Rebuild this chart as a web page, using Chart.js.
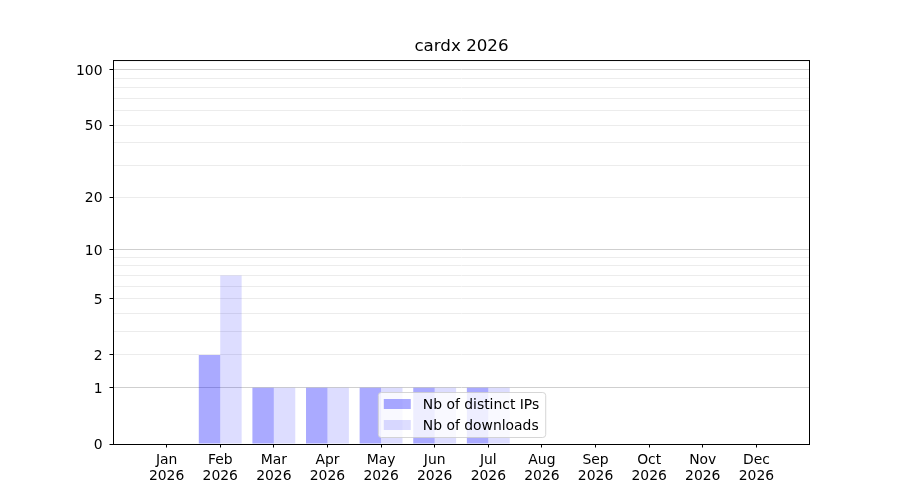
<!DOCTYPE html>
<html>
<head>
<meta charset="utf-8">
<script src="https://cdn.jsdelivr.net/npm/chart.js@4.4.1/dist/chart.umd.min.js"></script>
<style>
  html, body { margin: 0; padding: 0; background: #fff; }
  #wrap { width: 900px; height: 500px; }
</style>
</head>
<body>
<div id="wrap"><canvas id="chart" width="900" height="500"></canvas></div>
<script>
// Chart data
const chartTitle = 'cardx 2026';
const months = ['Jan', 'Feb', 'Mar', 'Apr', 'May', 'Jun', 'Jul', 'Aug', 'Sep', 'Oct', 'Nov', 'Dec'];
const yearLabel = '2026';
const distinctIps = [0, 2, 1, 1, 1, 1, 1, 0, 0, 0, 0, 0];
const downloads = [0, 7, 1, 1, 1, 1, 1, 0, 0, 0, 0, 0];
const yLabelTicks = [0, 1, 2, 5, 10, 20, 50, 100];
const yGridTicks = [0, 1, 2, 3, 4, 5, 6, 7, 8, 9, 10, 20, 30, 40, 50, 60, 70, 80, 90, 100];
const yMajorGrid = [1, 10, 100];
const yMax = 113;

// y axis scaled as log10(1 + v), like the original plot
class Log1pScale extends Chart.Scale {
    determineDataLimits() {
        this.min = this.options.min;
        this.max = this.options.max;
    }
    buildTicks() {
        return yGridTicks.map(v => ({ value: v }));
    }
    configure() {
        super.configure();
        this._startValue = Math.log10(1 + this.min);
        this._valueRange = Math.log10(1 + this.max) - this._startValue;
    }
    getPixelForValue(value) {
        return this.getPixelForDecimal((Math.log10(1 + value) - this._startValue) / this._valueRange);
    }
    getValueForPixel(pixel) {
        const dec = this.getDecimalForPixel(pixel);
        return Math.pow(10, this._startValue + dec * this._valueRange) - 1;
    }
    getLabelForValue(value) {
        return String(value);
    }
}
Log1pScale.id = 'log1p';
Log1pScale.defaults = {};
Chart.register(Log1pScale);

// Full frame around the plot, and title centred over the plot area
const frame = {
    id: 'frame',
    afterLayout(chart) {
        if (chart.titleBlock) {
            chart.titleBlock.left = chart.chartArea.left;
            chart.titleBlock.right = chart.chartArea.right;
        }
    },
    afterDatasetsDraw(chart) {
        const { ctx, chartArea: a } = chart;
        ctx.save();
        ctx.strokeStyle = '#000';
        ctx.lineWidth = 1;
        ctx.strokeRect(a.left + 0.5, a.top + 0.5, a.right - a.left - 1, a.bottom - a.top);
        ctx.restore();
    }
};

// Legend drawn inside the plot, lower center
const innerLegend = {
    id: 'innerLegend',
    afterDraw(chart) {
        const { ctx, chartArea: a } = chart;
        const sets = chart.data.datasets;
        ctx.save();
        ctx.font = '13.9px "DejaVu Sans"';
        const textW = Math.max(...sets.map(d => ctx.measureText(d.label).width));
        const w = 6 + 27 + 12 + textW + 6;
        const h = 45;
        const x = (a.left + a.right) / 2 - w / 2;
        const y = a.bottom - 7 - h;
        ctx.beginPath();
        ctx.roundRect(x + 0.5, y + 0.5, w, h, 3);
        ctx.fillStyle = 'rgba(255,255,255,0.8)';
        ctx.fill();
        ctx.strokeStyle = 'rgba(204,204,204,0.8)';
        ctx.stroke();
        sets.forEach((d, i) => {
            const cy = y + 12 + i * 21;
            ctx.fillStyle = d.backgroundColor;
            ctx.fillRect(x + 6, cy - 5, 27, 10);
            ctx.fillStyle = '#000';
            ctx.textBaseline = 'middle';
            ctx.fillText(d.label, x + 45, cy + 1);
        });
        ctx.restore();
    }
};

Chart.defaults.font.family = '"DejaVu Sans"';
Chart.defaults.font.size = 13.9;
Chart.defaults.color = '#000';

new Chart(document.getElementById('chart'), {
    type: 'bar',
    data: {
        datasets: [{
            label: 'Nb of distinct IPs',
            data: distinctIps.map((v, i) => ({ x: i, y: v })),
            backgroundColor: 'rgba(0,0,255,0.333)',
            categoryPercentage: 0.8,
            barPercentage: 1.0
        }, {
            label: 'Nb of downloads',
            data: downloads.map((v, i) => ({ x: i, y: v })),
            backgroundColor: 'rgba(0,0,255,0.133)',
            categoryPercentage: 0.8,
            barPercentage: 1.0
        }]
    },
    options: {
        responsive: false,
        animation: false,
        layout: { padding: { top: 0, right: 90, bottom: 0, left: 0 } },
        plugins: {
            legend: { display: false },
            tooltip: { enabled: false },
            title: {
                display: true,
                text: chartTitle,
                font: { size: 16.7, weight: 'normal' },
                padding: { top: 37, bottom: 3 }
            }
        },
        scales: {
            x: {
                type: 'linear',
                min: -1,
                max: 12,
                offset: false,
                afterBuildTicks: axis => { axis.ticks = months.map((m, i) => ({ value: i })); },
                afterFit: axis => { axis.height = 56; },
                ticks: {
                    callback: v => [months[v], yearLabel],
                    padding: 5,
                    maxRotation: 0,
                    autoSkip: false,
                    font: { lineHeight: 1.15 }
                },
                grid: { offset: false, drawOnChartArea: false, tickLength: 3.5, tickColor: '#000' },
                border: { display: false }
            },
            y: {
                type: 'log1p',
                min: 0,
                max: yMax,
                afterFit: axis => { axis.width = 113; },
                ticks: {
                    callback: v => yLabelTicks.includes(v) ? String(v) : '',
                    padding: 7,
                    labelOffset: 1.5,
                    autoSkip: false
                },
                grid: {
                    tickLength: 3.5,
                    color: ctx => {
                        const v = ctx.tick ? ctx.tick.value : -1;
                        if (v === 0) return 'rgba(0,0,0,0)';
                        return yMajorGrid.includes(v) ? '#cfcfcf' : '#ececec';
                    },
                    tickColor: ctx => {
                        const v = ctx.tick ? ctx.tick.value : -1;
                        return yLabelTicks.includes(v) ? '#000' : 'rgba(0,0,0,0)';
                    }
                },
                border: { display: false }
            }
        }
    },
    plugins: [frame, innerLegend]
});
</script>
</body>
</html>
